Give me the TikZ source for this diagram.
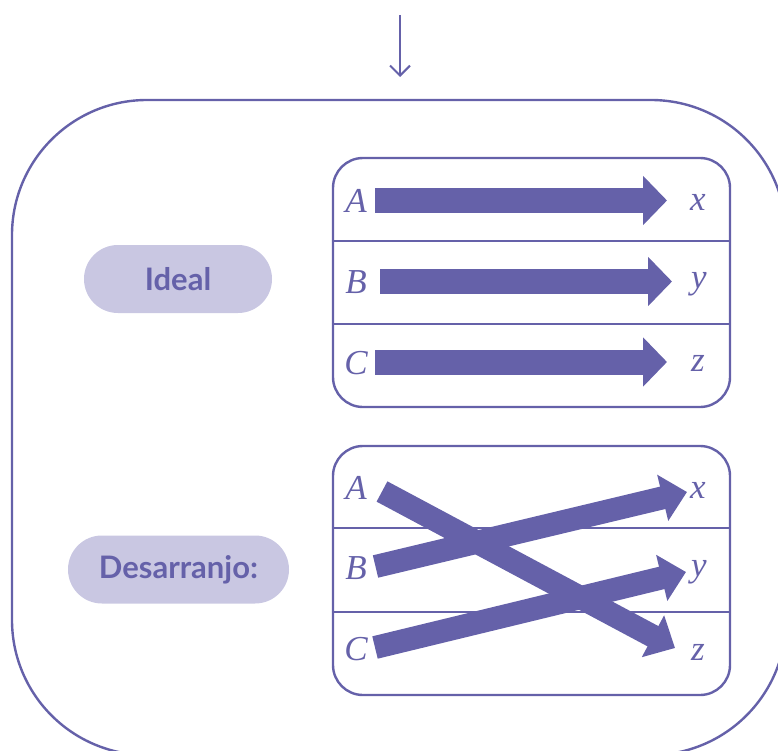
\documentclass[tikz,border=0pt]{standalone}
\usepackage{fontspec}
\newfontfamily\pillfont{Lato}
\newfontfamily\letterfont{Liberation Serif}
\usetikzlibrary{arrows.meta}
\definecolor{purp}{HTML}{6561A9}
\definecolor{lilac}{HTML}{C9C7E2}
\begin{document}
\begin{tikzpicture}[x=1pt,y=-1pt,line width=2.4pt,draw=purp,
  letter/.style={font=\letterfont\itshape\fontsize{35}{40}\selectfont,text=purp,inner sep=0pt},
  pill/.style={fill=lilac,rounded corners=33.9pt,minimum height=68pt,text=purp,font=\pillfont\bfseries\fontsize{31}{36}\selectfont},
  panel/.style={draw=purp,rounded corners=30pt,minimum width=397pt,minimum height=249pt},
  fat/.style={draw=purp,-{Triangle[width=48pt,length=24pt]},line width=25pt},
  slim/.style={draw=purp,-{Triangle[width=46pt,length=25pt]},line width=23pt}]
\useasboundingbox (0,0) rectangle (778,751);
% frame and incoming arrow
\draw [purp,rounded corners=135pt] (12,100) rectangle (786,755);
\coordinate (in) at (400,15);
\coordinate (inend) at (400,77);
\draw [purp,line width=2pt,-{Straight Barb[width=20pt,length=10pt,line width=2pt]}] (in) -- (inend);
% pills
\node (ideal) at (178,279) [pill,minimum width=188pt] {Ideal};
\node (desar) at (178.5,569.5) [pill,minimum width=221pt] {Desarranjo:};
% panels
\node (top) at (531.5,282.5) [panel] {};
\node (bot) at (531.5,570.5) [panel] {};
\draw [purp] (top.west |- 0,241) -- (top.east |- 0,241);
\draw [purp] (top.west |- 0,324) -- (top.east |- 0,324);
\draw [purp] (bot.west |- 0,528) -- (bot.east |- 0,528);
\draw [purp] (bot.west |- 0,612) -- (bot.east |- 0,612);
% letters
\node (A1) at (356,201) [letter] {A};
\node (B1) at (356,282) [letter] {B};
\node (C1) at (356,363) [letter] {C};
\node (x1) at (698,202) [letter] {x};
\node (y1) at (699,284) [letter] {y};
\node (z1) at (698,363) [letter] {z};
\node (A2) at (356,488) [letter] {A};
\node (B2) at (356,568) [letter] {B};
\node (C2) at (356,649) [letter] {C};
\node (x2) at (698,490) [letter] {x};
\node (y2) at (699,572) [letter] {y};
\node (z2) at (698,652) [letter] {z};
% arrow ends
\coordinate (a1) at (375,200.5);
\coordinate (b1) at (380,281.5);
\coordinate (c1) at (375,362);
\coordinate (p1) at (667,200.5);
\coordinate (q1) at (672,281.5);
\coordinate (r1) at (667,362);
\coordinate (a2) at (382,491.5);
\coordinate (b2) at (375.5,566.5);
\coordinate (c2) at (375,647.5);
\coordinate (p2) at (687,492);
\coordinate (q2) at (686,572);
\coordinate (r2) at (675,648);
\draw [fat] (a1) -- (p1);
\draw [fat] (b1) -- (q1);
\draw [fat] (c1) -- (r1);
\draw [slim] (a2) -- (r2);
\draw [slim] (b2) -- (p2);
\draw [slim] (c2) -- (q2);
\end{tikzpicture}
\end{document}
